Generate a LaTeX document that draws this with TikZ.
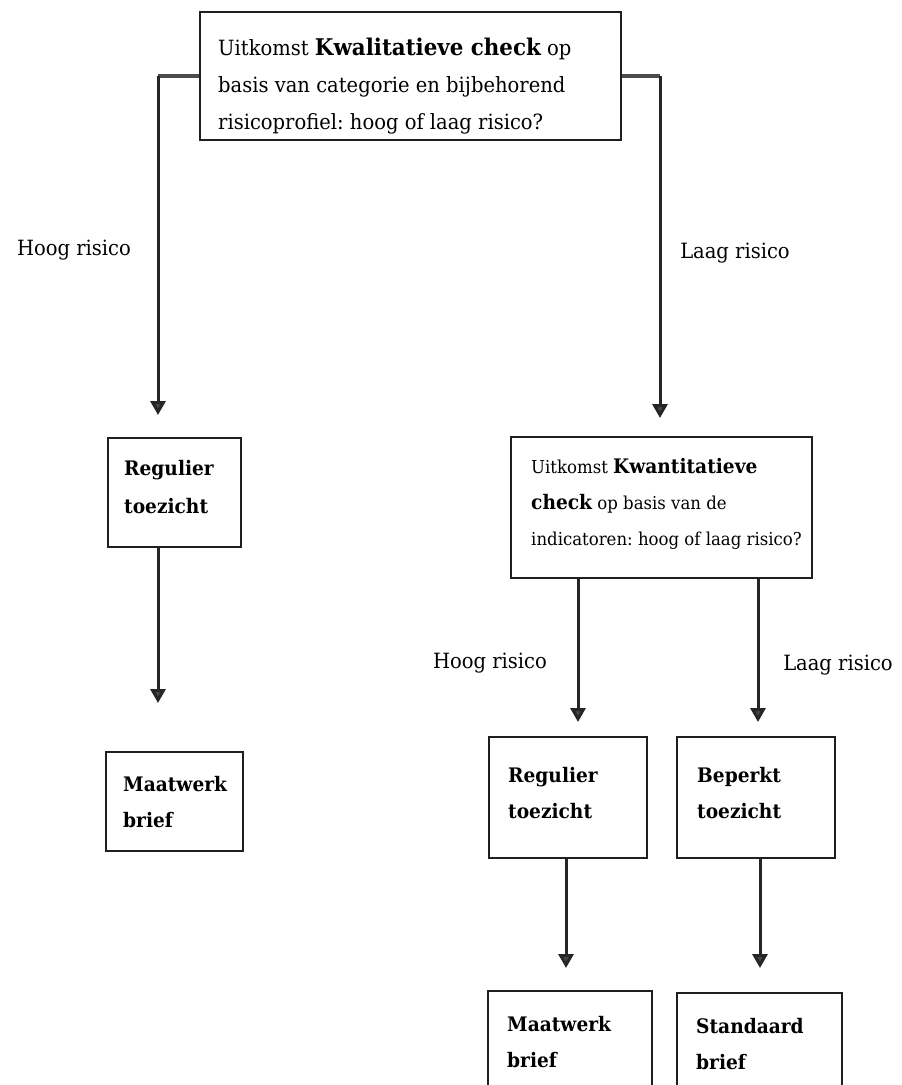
\documentclass[tikz,border=0pt]{standalone}
\usepackage{fontspec}
\setmainfont[FakeStretch=0.93]{DejaVu Serif}
\usetikzlibrary{arrows.meta}
\tikzset{
  box/.style={draw=black!88, line width=1.6pt, inner sep=0pt, anchor=center},
  txt/.style={inner sep=0pt, align=left, anchor=north west, font=\fontsize{21}{36}\selectfont},
  btxt/.style={inner sep=0pt, align=left, anchor=north west, font=\bfseries\fontsize{20}{36}\selectfont},
  conn/.style={draw=black!85, line width=3pt, -{Triangle[width=15pt,length=14pt,fill=black!72]}},
  feed/.style={draw=black!70, line width=3.6pt},
  lbl/.style={font=\fontsize{21}{24}\selectfont, inner sep=0pt}
}
\newcommand{\bk}[1]{{\bfseries\fontsize{23}{36}\selectfont #1}}
\newcommand{\bks}[1]{{\bfseries\fontsize{20}{36}\selectfont #1}}
\frenchspacing
\begin{document}
\begin{tikzpicture}[x=1pt,y=-1pt]
\useasboundingbox (0,0) rectangle (902,1085);
% boxes
\node[box, minimum width=421pt, minimum height=128pt] (top) at (410.5,76) {};
\node[box, minimum width=133pt, minimum height=109pt] (reg1) at (174.5,492.5) {};
\node[box, minimum width=137pt, minimum height=99pt] (maat1) at (174.5,801.5) {};
\node[box, minimum width=301pt, minimum height=141pt] (kwant) at (661.5,507.5) {};
\node[box, minimum width=158pt, minimum height=121pt] (reg2) at (568,797.5) {};
\node[box, minimum width=158pt, minimum height=121pt] (bep) at (756,797.5) {};
\node[box, minimum width=164pt, minimum height=104pt] (maat2) at (570,1043) {};
\node[box, minimum width=165pt, minimum height=104pt] (stand) at (759.5,1045) {};
% box texts
\node[txt, font=\fontsize{21}{37}\selectfont] (topt) at (218,38)
  {Uitkomst \bk{Kwalitatieve check} op\\ basis van categorie en bijbehorend\\ risicoprofiel: hoog of laag risico?};
\node[btxt, font=\bfseries\fontsize{20}{38}\selectfont] (reg1t) at (124,460) {Regulier\\ toezicht};
\node[btxt] (maat1t) at (123,776) {Maatwerk\\ brief};
\node[txt, font=\fontsize{17.8}{36}\selectfont] (kwantt) at (531,458)
  {Uitkomst \bks{Kwantitatieve}\\ \bks{check} op basis van de\\ indicatoren: hoog of laag risico?};
\node[btxt] (reg2t) at (508,767) {Regulier\\ toezicht};
\node[btxt] (bept) at (697,767) {Beperkt\\ toezicht};
\node[btxt] (maat2t) at (507,1016) {Maatwerk\\ brief};
\node[btxt] (standt) at (696,1018) {Standaard\\ brief};
% arrow end points
\coordinate (a1) at (158,415);
\coordinate (a2) at (660,418);
\coordinate (a3) at (158,703);
\coordinate (a4) at (578,722);
\coordinate (a5) at (758,722);
\coordinate (a6) at (566,968);
\coordinate (a7) at (760,968);
% connectors
\draw[feed] (top.west) -- (top.west -| a1);
\draw[feed] (top.east) -- (top.east -| a2);
\draw[conn] (top.west -| a1) -- (a1);
\draw[conn] (top.east -| a2) -- (a2);
\draw[conn] (reg1.south -| a3) -- (a3);
\draw[conn] (kwant.south -| a4) -- (a4);
\draw[conn] (kwant.south -| a5) -- (a5);
\draw[conn] (reg2.south -| a6) -- (a6);
\draw[conn] (bep.south -| a7) -- (a7);
% labels
\node[lbl] (l1) at (74,250) {Hoog risico};
\node[lbl] (l2) at (735,253) {Laag risico};
\node[lbl] (l3) at (490,663) {Hoog risico};
\node[lbl] (l4) at (838,665) {Laag risico};
\end{tikzpicture}
\end{document}
